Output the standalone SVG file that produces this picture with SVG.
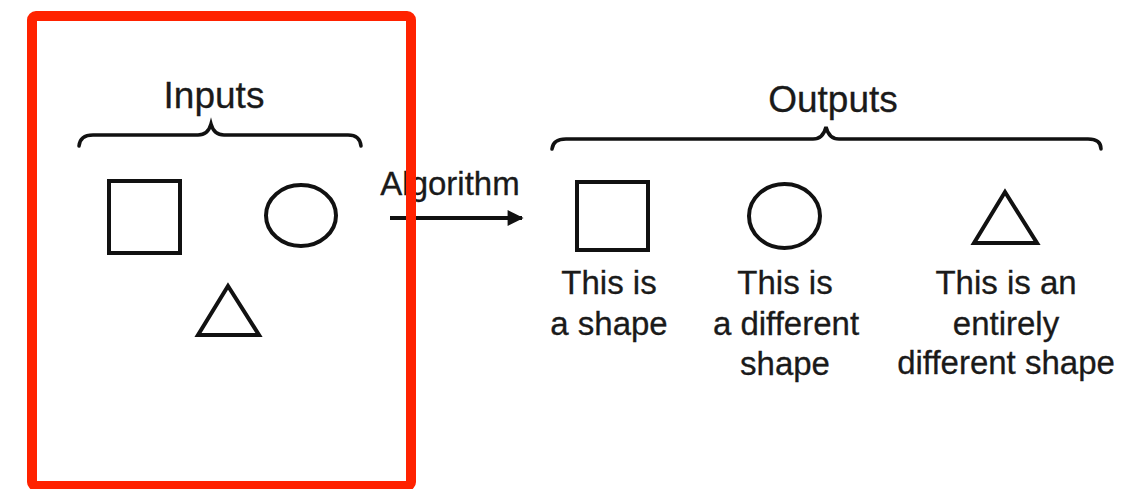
<svg xmlns="http://www.w3.org/2000/svg" width="1131" height="489" viewBox="0 0 1131 489">
<defs>
<style>
.shape{fill:none;stroke:#111;stroke-width:4;stroke-linejoin:miter}
.brace{fill:none;stroke:#111;stroke-width:3.5;stroke-linecap:round}
.t{font-family:"Liberation Sans",Arial,sans-serif;fill:#1a1a1a;text-anchor:middle;stroke:#1a1a1a;stroke-width:0.3}
.h{font-size:37px}
.l{font-size:33px}
</style>
<marker id="ah" viewBox="0 0 10 10" refX="9" refY="5" markerWidth="5" markerHeight="4" markerUnits="strokeWidth" orient="auto">
<path d="M0,0 L10,5 L0,10 z" fill="#111"/>
</marker>
</defs>
<rect width="1131" height="489" fill="#fff"/>
<g id="inputs-label">
<text class="t h" x="214" y="108">Inputs</text>
<path class="brace" d="M79,146 Q80,135 93,135 L198,135 Q208,135 211,124 Q214,135 224,135 L348,135 Q360,135 361,146"/>
</g>
<g id="in-square"><rect class="shape" x="109" y="181" width="71" height="72"/></g>
<g id="in-circle"><ellipse class="shape" cx="301" cy="215.5" rx="35" ry="30.5"/></g>
<g id="in-triangle"><polygon class="shape" points="228,286 259,335 198,335"/></g>
<g id="connectors">
<line x1="390" y1="218" x2="522" y2="218" stroke="#111" stroke-width="4" marker-end="url(#ah)"/>
<text class="t l" x="450" y="195">Algorithm</text>
</g>
<g id="outputs-label">
<text class="t h" x="833" y="112">Outputs</text>
<path class="brace" d="M552,149 Q553,139 566,139 L813,139 Q823,139 826,127 Q829,139 839,139 L1088,139 Q1101,139 1101,149"/>
</g>
<g id="out-square">
<rect class="shape" x="577" y="182" width="71" height="68"/>
<text class="t l" x="609" y="294">This is</text>
<text class="t l" x="609" y="335">a shape</text>
</g>
<g id="out-circle">
<ellipse class="shape" cx="784.5" cy="216" rx="35.5" ry="32"/>
<text class="t l" x="785" y="294">This is</text>
<text class="t l" x="786" y="335">a different</text>
<text class="t l" x="785" y="375">shape</text>
</g>
<g id="out-triangle">
<polygon class="shape" points="1005,192 1037,243 974,243"/>
<text class="t l" x="1006" y="294">This is an</text>
<text class="t l" x="1006" y="335">entirely</text>
<text class="t l" x="1006" y="374">different shape</text>
</g>
<g id="highlight">
<rect x="32" y="16" width="379" height="470" rx="4" fill="none" stroke="#ff2200" stroke-width="10"/>
</g>
</svg>
